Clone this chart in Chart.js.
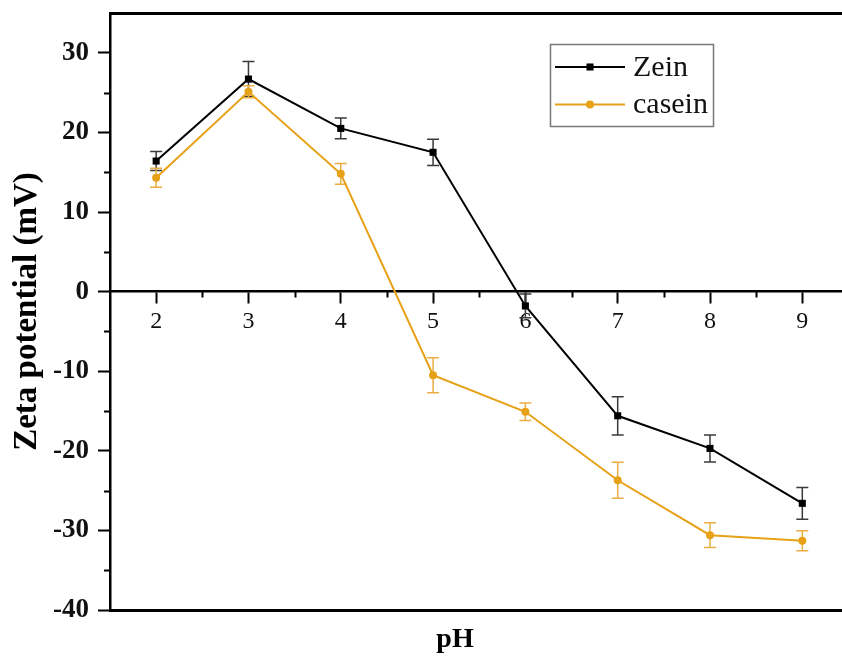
<!DOCTYPE html>
<html>
<head>
<meta charset="utf-8">
<title>Zeta potential vs pH</title>
<script src="https://cdn.jsdelivr.net/npm/chart.js@4"></script>
<style>
  html, body { margin: 0; padding: 0; background: #fff; }
  #wrap { width: 842px; height: 657px; }
</style>
</head>
<body>
<div id="wrap"><canvas id="zetaChart" width="842" height="657"></canvas></div>
<script>
// pH values and measured zeta potential (mV) with error bars
const phValues = [2, 3, 4, 5, 6, 7, 8, 9];
const zein = [16.4, 26.7, 20.5, 17.5, -1.8, -15.6, -19.7, -26.6];
const zeinErr = [1.2, 2.2, 1.3, 1.65, 1.5, 2.4, 1.7, 2.0];
const casein = [14.3, 25.1, 14.8, -10.5, -15.1, -23.7, -30.6, -31.3];
const caseinErr = [1.2, 0.75, 1.3, 2.2, 1.1, 2.25, 1.55, 1.25];

const yMinor = [-35, -25, -15, -5, 5, 15, 25];
const xMinor = [2.5, 3.5, 4.5, 5.5, 6.5, 7.5, 8.5];

const serif = '"Liberation Serif", "Times New Roman", serif';
const orange = '#E6A117';

// error bars drawn under the lines
const errorBars = {
  id: 'errorBars',
  beforeDatasetsDraw(chart) {
    const ctx = chart.ctx;
    const xs = chart.scales.x, ys = chart.scales.y;
    chart.data.datasets.forEach((ds) => {
      ctx.save();
      ctx.strokeStyle = ds.errorColor;
      ctx.lineWidth = 1.5;
      ds.data.forEach((pt, j) => {
        const x = xs.getPixelForValue(pt.x);
        const top = ys.getPixelForValue(pt.y + ds.errors[j]);
        const bot = ys.getPixelForValue(pt.y - ds.errors[j]);
        ctx.beginPath();
        ctx.moveTo(x, top); ctx.lineTo(x, bot);
        ctx.moveTo(x - 6, top); ctx.lineTo(x + 6, top);
        ctx.moveTo(x - 6, bot); ctx.lineTo(x + 6, bot);
        ctx.stroke();
      });
      ctx.restore();
    });
  }
};

// short minor ticks on both axes
const minorTicks = {
  id: 'minorTicks',
  afterDraw(chart) {
    const ctx = chart.ctx;
    const xs = chart.scales.x, ys = chart.scales.y;
    ctx.save();
    ctx.strokeStyle = '#000';
    ctx.lineWidth = 2;
    ctx.beginPath();
    yMinor.forEach(v => {
      const y = Math.round(ys.getPixelForValue(v)) + 0.5;
      ctx.moveTo(ys.right, y); ctx.lineTo(ys.right - 6, y);
    });
    const y0 = ys.getPixelForValue(0);
    xMinor.forEach(v => {
      const x = Math.round(xs.getPixelForValue(v)) + 0.5;
      ctx.moveTo(x, y0); ctx.lineTo(x, y0 + 6);
    });
    ctx.stroke();
    ctx.restore();
  }
};

// boxed legend inside the plot, top right
const boxLegend = {
  id: 'boxLegend',
  afterDraw(chart) {
    const ctx = chart.ctx;
    ctx.save();
    ctx.strokeStyle = '#777';
    ctx.lineWidth = 1.5;
    ctx.strokeRect(550.5, 44.5, 163, 82);
    chart.data.datasets.forEach((ds, i) => {
      const y = 67 + i * 37.5;
      ctx.strokeStyle = ds.borderColor;
      ctx.lineWidth = 2;
      ctx.beginPath();
      ctx.moveTo(555, y); ctx.lineTo(625, y);
      ctx.stroke();
      ctx.fillStyle = ds.borderColor;
      Chart.helpers.drawPoint(ctx, {pointStyle: ds.pointStyle, radius: ds.pointRadius, borderWidth: 0, rotation: 0}, 590, y);
      ctx.fillStyle = '#111';
      ctx.font = '30px ' + serif;
      ctx.textBaseline = 'middle';
      ctx.fillText(ds.label, 633, y + 1);
    });
    ctx.restore();
  }
};

const frameAxis = (pos, h, title) => ({
  type: 'linear',
  position: pos,
  min: 1.5,
  max: 9.43,
  ticks: { display: false },
  grid: { display: false, drawTicks: false },
  border: { display: true, color: '#000', width: 3 },
  title: title ? {
    display: true, text: title, color: '#000',
    font: { family: serif, size: 28, weight: 'bold' },
    padding: { top: 0, bottom: 0 }
  } : { display: false },
  afterFit(scale) { scale.height = h; scale.paddingLeft = 0; scale.paddingRight = 0; }
});

new Chart(document.getElementById('zetaChart').getContext('2d'), {
  type: 'line',
  data: {
    datasets: [{
      label: 'Zein',
      data: phValues.map((p, i) => ({ x: p, y: zein[i] })),
      errors: zeinErr,
      errorColor: '#3a3a3a',
      borderColor: '#000',
      backgroundColor: '#000',
      borderWidth: 2,
      pointStyle: 'rect',
      pointRadius: 5,
      pointBorderWidth: 0
    }, {
      label: 'casein',
      data: phValues.map((p, i) => ({ x: p, y: casein[i] })),
      errors: caseinErr,
      errorColor: '#EBAE45',
      borderColor: orange,
      backgroundColor: orange,
      borderWidth: 2,
      pointStyle: 'circle',
      pointRadius: 4,
      pointBorderWidth: 0
    }]
  },
  options: {
    responsive: false,
    animation: false,
    layout: { padding: 0, autoPadding: false },
    plugins: { legend: { display: false }, tooltip: { enabled: false } },
    scales: {
      x: {
        type: 'linear',
        position: { y: 0 },
        min: 1.5,
        max: 9.43,
        afterBuildTicks(scale) { scale.ticks = phValues.map(v => ({ value: v })); },
        afterFit(scale) { scale.paddingLeft = 0; scale.paddingRight = 0; },
        ticks: { color: '#111', padding: 5, font: { family: serif, size: 24 } },
        grid: { drawOnChartArea: false, drawTicks: true, tickLength: 11, tickColor: '#000', tickWidth: 2 },
        border: { color: '#000', width: 2.5 }
      },
      xTop: frameAxis('top', 13, null),
      // trailing spaces nudge the centred title left, as in the original figure
      xBottom: frameAxis('bottom', 47, 'pH\u00a0\u00a0\u00a0\u00a0\u00a0\u00a0'),
      y: {
        type: 'linear',
        position: 'left',
        min: -40,
        max: 35,
        afterBuildTicks(scale) { scale.ticks = scale.ticks.filter(t => t.value % 10 === 0); },
        afterFit(scale) { scale.width = 110; scale.paddingTop = 0; scale.paddingBottom = 0; },
        ticks: { stepSize: 10, color: '#111', padding: 9, font: { family: serif, size: 27, weight: 'bold' } },
        grid: { drawOnChartArea: false, drawTicks: true, tickLength: 12, tickColor: '#000', tickWidth: 2 },
        border: { color: '#000', width: 2.5 },
        title: {
          display: true, text: 'Zeta potential (mV)', color: '#000',
          font: { family: serif, size: 33, weight: 'bold' },
          padding: { top: 8, bottom: 0 }
        }
      }
    }
  },
  plugins: [errorBars, minorTicks, boxLegend]
});
</script>
</body>
</html>
